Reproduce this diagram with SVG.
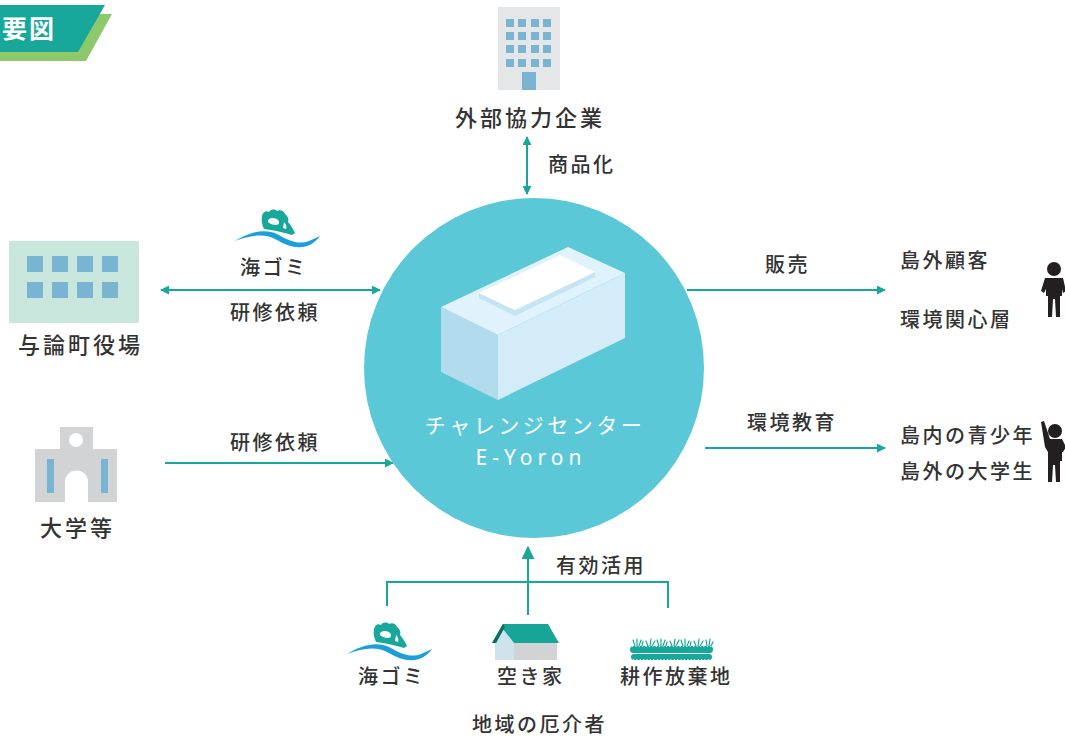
<svg xmlns="http://www.w3.org/2000/svg" width="1065" height="739" viewBox="0 0 1065 739">
  <defs>
    <style>
      .lbl { font-family: "Noto Sans CJK JP", "Noto Sans", sans-serif; font-weight: 500; fill: #333333; font-size: 20px; letter-spacing: 2.5px; }
      .name { font-size: 22px; letter-spacing: 3px; }
      .conn { stroke: #17a89b; stroke-width: 2; fill: none; }
      .win { fill: #79b4d2; }
      .ink { fill: #231f20; }
    </style>
    <marker id="head" viewBox="0 0 10 10" refX="9" refY="5" markerWidth="9" markerHeight="9" orient="auto-start-reverse" markerUnits="userSpaceOnUse">
      <path d="M0,0 L10,5 L0,10 z" fill="#17a89b"/>
    </marker>
    <marker id="headL" viewBox="0 0 12 12" refX="11" refY="6" markerWidth="13" markerHeight="13" orient="auto-start-reverse" markerUnits="userSpaceOnUse">
      <path d="M0,0 L12,6 L0,12 z" fill="#17a89b"/>
    </marker>
    <!-- sea litter on a wave -->
    <g id="seaLitter">
      <path d="M27,2 C28,-2 31,-4 34,-2 C36,-5 40,-5 42,-3 C45,-5 49,-3 50,0 C53,2 54,5 53,8 C56,11 58,15 60,19 L57,21 C50,19 43,17 36,16 L29,15 C27,11 26,6 27,2 z" fill="#17a89b"/>
      <path d="M33,6 C36,3 41,4 43,6 C45,8 44,11 41,11 C38,11 35,10 33,8 z" fill="#ffffff"/>
      <path d="M49,8 C51,10 52,13 51,15 L48,14 z" fill="#ffffff"/>
      <path d="M0,27 C14,18 30,14 42,20 C54,27 64,31 74,27 C79,25 82,23 85,22 C82,26 78,30 72,32 C62,35 52,32 42,26 C30,19 16,21 0,27 z" fill="#1a9fdc"/>
    </g>
  </defs>

  <!-- section badge -->
  <g id="badge">
    <polygon points="0,14 112,14 86,61 0,61" fill="#8dc96a"/>
    <polygon points="0,5 105,5 78,52 0,52" fill="#17a89b"/>
    <text x="2" y="38" font-family="Noto Sans CJK JP, sans-serif" font-weight="700" font-size="25" fill="#ffffff" letter-spacing="2">要図</text>
  </g>

  <!-- connectors -->
  <g id="connectors">
    <line class="conn" x1="527" y1="137" x2="527" y2="194" marker-start="url(#head)" marker-end="url(#head)"/>
    <line class="conn" x1="161" y1="290" x2="380" y2="290" marker-start="url(#head)" marker-end="url(#head)"/>
    <line class="conn" x1="165" y1="463" x2="393" y2="463" marker-end="url(#head)"/>
    <line class="conn" x1="687" y1="290" x2="885" y2="290" marker-end="url(#head)"/>
    <line class="conn" x1="705" y1="448" x2="885" y2="448" marker-end="url(#head)"/>
    <polyline class="conn" points="387,606 387,582 668,582 668,608"/>
    <line class="conn" x1="528" y1="615" x2="528" y2="547" marker-end="url(#headL)"/>
  </g>

  <!-- central node -->
  <g id="center">
    <circle cx="534" cy="368" r="170" fill="#5bc8d8"/>
    <polygon points="441,307 498,335 498,400 441,372" fill="#b3dbee"/>
    <polygon points="498,335 625,273 625,338 498,400" fill="#d4ecf8"/>
    <polygon points="441,307 568,247 625,273 498,335" fill="#e0f2fb"/>
    <polygon points="479,293 479,298 515,316 595,277 595,272 515,310" fill="#c5e4f4"/>
    <polygon points="479,293 560,255 595,272 515,310" fill="#ffffff"/>
    <text x="535" y="433" text-anchor="middle" font-family="Noto Sans CJK JP, sans-serif" font-weight="400" font-size="21" fill="#ffffff" letter-spacing="3.5">チャレンジセンター</text>
    <text x="531" y="465" text-anchor="middle" font-family="Noto Sans, sans-serif" font-weight="400" font-size="21" fill="#ffffff" letter-spacing="5">E-Yoron</text>
  </g>

  <!-- external partner company -->
  <g id="company">
    <rect x="498" y="7" width="62" height="83" fill="#e5e6e8"/>
    <g class="win">
      <rect x="506" y="19" width="8" height="8"/><rect x="518" y="19" width="8" height="8"/><rect x="531" y="19" width="8" height="8"/><rect x="543" y="19" width="8" height="8"/>
      <rect x="506" y="32" width="8" height="8"/><rect x="518" y="32" width="8" height="8"/><rect x="531" y="32" width="8" height="8"/><rect x="543" y="32" width="8" height="8"/>
      <rect x="506" y="45" width="8" height="8"/><rect x="518" y="45" width="8" height="8"/><rect x="531" y="45" width="8" height="8"/><rect x="543" y="45" width="8" height="8"/>
      <rect x="506" y="59" width="8" height="8"/><rect x="518" y="59" width="8" height="8"/><rect x="531" y="59" width="8" height="8"/><rect x="543" y="59" width="8" height="8"/>
      <rect x="522" y="72" width="14" height="18"/>
    </g>
    <text class="lbl name" x="455" y="126">外部協力企業</text>
    <text class="lbl" x="548" y="172">商品化</text>
  </g>

  <!-- town office -->
  <g id="townOffice">
    <rect x="9" y="241" width="130" height="82" fill="#c8e6dc"/>
    <g class="win">
      <rect x="27" y="256" width="16" height="16"/><rect x="52" y="256" width="16" height="16"/><rect x="77" y="256" width="16" height="16"/><rect x="102" y="256" width="16" height="16"/>
      <rect x="27" y="282" width="16" height="16"/><rect x="52" y="282" width="16" height="16"/><rect x="77" y="282" width="16" height="16"/><rect x="102" y="282" width="16" height="16"/>
    </g>
    <text class="lbl name" x="18" y="353">与論町役場</text>
    <use href="#seaLitter" x="235" y="214"/>
    <text class="lbl" x="240" y="275">海ゴミ</text>
    <text class="lbl" x="230" y="320">研修依頼</text>
  </g>

  <!-- universities -->
  <g id="university">
    <rect x="60" y="427" width="33" height="24" fill="#d2d3d5"/>
    <rect x="35" y="449" width="82" height="53" fill="#d2d3d5"/>
    <circle cx="76" cy="440" r="7" fill="#ffffff"/>
    <rect x="47" y="459" width="7" height="34" class="win"/>
    <rect x="101" y="459" width="7" height="34" class="win"/>
    <path d="M65,502 L65,482 A11.5,11.5 0 0 1 88,482 L88,502 z" fill="#ffffff"/>
    <text class="lbl name" x="40" y="536">大学等</text>
    <text class="lbl" x="230" y="450">研修依頼</text>
  </g>

  <!-- off-island customers -->
  <g id="customers">
    <text class="lbl" x="765" y="272">販売</text>
    <text class="lbl" x="900" y="268">島外顧客</text>
    <text class="lbl" x="900" y="327">環境関心層</text>
    <g class="ink">
      <circle cx="1054" cy="269" r="7"/>
      <path d="M1045,278 L1063,278 L1066,291 L1063,293 L1062,289 L1062,296 L1060,296 L1060,317 L1056,317 L1055,299 L1053,299 L1052,317 L1048,317 L1048,296 L1046,296 L1046,289 L1044,293 L1041,291 z"/>
    </g>
  </g>

  <!-- environmental education -->
  <g id="students">
    <text class="lbl" x="747" y="430">環境教育</text>
    <text class="lbl" x="900" y="443">島内の青少年</text>
    <text class="lbl" x="900" y="479">島外の大学生</text>
    <g class="ink">
      <circle cx="1055" cy="431" r="7"/>
      <path d="M1041,422 L1044,421 L1050,439 L1062,439 L1066,447 L1063,452 L1062,452 L1062,461 L1060,461 L1060,482 L1056,482 L1055,465 L1053,465 L1052,482 L1048,482 L1048,452 L1045,447 z"/>
    </g>
  </g>

  <!-- local nuisances put to use -->
  <g id="localResources">
    <text class="lbl" x="556" y="573">有効活用</text>
    <use href="#seaLitter" x="347" y="627"/>
    <text class="lbl" x="358" y="684">海ゴミ</text>
    <!-- vacant house -->
    <rect x="514" y="643" width="43" height="17" fill="#d2d3d5"/>
    <polygon points="495,643 503,629 514,643 514,660 495,660" fill="#cfe3ec"/>
    <polygon points="492,643 503,624 548,624 559,643 514,643 503,629 496,643" fill="#16a596"/>
    <polygon points="492,643 503,624 505,627 496,643" fill="#0e6e63"/>
    <text class="lbl" x="497" y="684">空き家</text>
    <!-- abandoned farmland -->
    <g fill="#17a89b">
      <rect x="630" y="646" width="83" height="7" rx="3.5"/>
      <rect x="631" y="654" width="81" height="6" rx="3"/>
    </g>
    <g stroke="#17a89b" stroke-width="1.2" fill="none" stroke-linecap="round">
      <path d="M635,646 l-2,-6 M637,646 l0,-7 M639,646 l2,-6 M642,646 l1,-5"/>
      <path d="M648,646 l-2,-5 M650,646 l1,-7 M652,646 l3,-5"/>
      <path d="M659,646 l-2,-6 M661,646 l0,-7 M663,646 l2,-6 M666,646 l1,-4"/>
      <path d="M672,646 l-2,-5 M674,646 l1,-7 M676,646 l3,-6"/>
      <path d="M683,646 l-2,-6 M685,646 l0,-7 M687,646 l2,-5 M690,646 l1,-4"/>
      <path d="M696,646 l-2,-5 M698,646 l1,-7 M700,646 l3,-5"/>
      <path d="M707,646 l-1,-6 M709,646 l1,-7 M711,646 l2,-4"/>
    </g>
    <g stroke="#ffffff" stroke-width="0.9" stroke-dasharray="1 2.4">
      <line x1="632" y1="646.5" x2="712" y2="646.5"/>
      <line x1="632" y1="653.5" x2="712" y2="653.5"/>
      <line x1="633" y1="659.5" x2="711" y2="659.5"/>
    </g>
    <text class="lbl" x="620" y="684">耕作放棄地</text>
    <text class="lbl" x="472" y="732">地域の厄介者</text>
  </g>
</svg>
